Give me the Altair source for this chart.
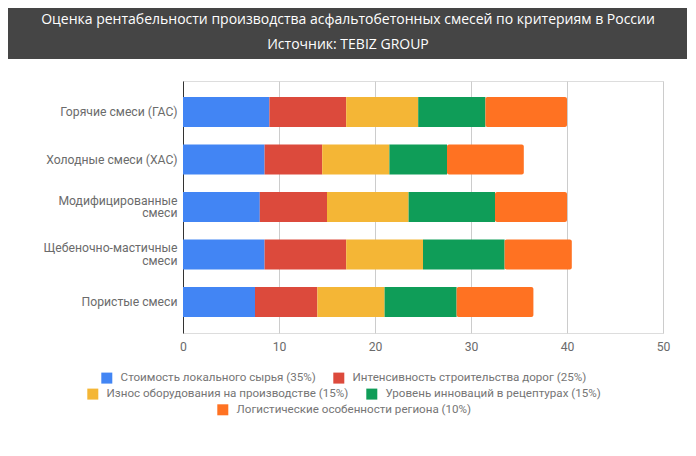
import altair as alt
import pandas as pd

categories = [
    "Горячие смеси (ГАС)",
    "Холодные смеси (ХАС)",
    "Модифицированные|смеси",
    "Щебеночно-мастичные|смеси",
    "Пористые смеси",
]
series_names = [
    "Стоимость локального сырья (35%)",
    "Интенсивность строительства дорог (25%)",
    "Износ оборудования на производстве (15%)",
    "Уровень инноваций в рецептурах (15%)",
    "Логистические особенности региона (10%)",
]
s_raw = [9.0, 8.5, 8.0, 8.5, 7.5]
s_roads = [8.0, 6.0, 7.0, 8.5, 6.5]
s_wear = [7.5, 7.0, 8.5, 8.0, 7.0]
s_innov = [7.0, 6.0, 9.0, 8.5, 7.5]
s_logist = [8.5, 8.0, 7.5, 7.0, 8.0]
colors = ["#4285F4", "#DC4A3C", "#F4B636", "#0F9D58", "#FF7222"]
x_ticks = [0, 10, 20, 30, 40, 50]

title_line1 = "Оценка рентабельности производства асфальтобетонных смесей по критериям в России"
title_line2 = "Источник: TEBIZ GROUP"

all_series = [s_raw, s_roads, s_wear, s_innov, s_logist]
rows = []
for si, (name, vals) in enumerate(zip(series_names, all_series)):
    for c, v in zip(categories, vals):
        rows.append({"category": c, "series": name, "order": si, "value": v})
df = pd.DataFrame(rows)

FONT = "Roboto"
LABEL_COLOR = "#6b6b6b"

base = alt.Chart(df).transform_stack(
    stack="value",
    groupby=["category"],
    as_=["x0", "x1"],
    sort=[alt.SortField("order", order="ascending")],
)

y_enc = alt.Y(
    "category:N",
    sort=categories,
    scale=alt.Scale(paddingInner=0.368, paddingOuter=0.337),
    axis=alt.Axis(
        title=None,
        labelExpr="split(datum.label, '|')",
        labelFont=FONT,
        labelFontSize=12.2,
        labelColor=LABEL_COLOR,
        labelPadding=6,
        labelLineHeight=12.7,
        labelOffset={"condition": {"test": "indexof(datum.label, '|') >= 0", "value": -6.3}, "value": 0},
        labelLimit=300,
        ticks=False,
        domain=True,
        domainColor="#333333",
        domainWidth=1,
        grid=False,
    ),
)
x_enc = alt.X(
    "x0:Q",
    scale=alt.Scale(domain=[0, 50], nice=False),
    axis=alt.Axis(
        title=None,
        values=x_ticks,
        labelFont=FONT,
        labelFontSize=12.2,
        labelColor=LABEL_COLOR,
        labelPadding=7,
        labelFlush=False,
        ticks=False,
        domain=False,
        grid=True,
        gridColor="#cccccc",
    ),
)


def legend(x, y):
    return alt.Legend(
        title=None,
        orient="none",
        legendX=x,
        legendY=y,
        direction="horizontal",
        symbolType="square",
        symbolSize=121,
        symbolStrokeWidth=0,
        symbolOpacity=1,
        labelFont=FONT,
        labelFontSize=11.6,
        labelColor="#757575",
        labelOffset=8,
        labelLimit=0,
        columnPadding=17,
        padding=0,
    )


groups = [([0, 1], -82, 291), ([2, 3], -96, 307), ([4], 34, 323)]
layers = []

one = pd.DataFrame({"k": [0]})
bg = alt.Chart(one).mark_rect(color="#454545").encode(
    x=alt.value(-175), x2=alt.value(504), y=alt.value(-73), y2=alt.value(-22)
)
layers.append(bg)
for txt, yy in [(title_line1, -61), (title_line2, -36)]:
    layers.append(
        alt.Chart(one)
        .mark_text(
            text=txt,
            color="#ffffff",
            font="Open Sans",
            fontSize=14,
            fontWeight=500,
            align="center",
            baseline="middle",
        )
        .encode(x=alt.value(165), y=alt.value(yy))
    )

for idx, lx, ly in groups:
    names = [series_names[i] for i in idx]
    cols = [colors[i] for i in idx]
    mark_kwargs = {}
    if 4 in idx:
        mark_kwargs["cornerRadiusEnd"] = 2
    layer = base.transform_filter(
        alt.FieldOneOfPredicate(field="series", oneOf=names)
    ).mark_bar(**mark_kwargs).encode(
        y=y_enc,
        x=x_enc,
        x2="x1:Q",
        color=alt.Color(
            "series:N",
            scale=alt.Scale(domain=names, range=cols),
            legend=legend(lx, ly),
        ),
    )
    layers.append(layer)

chart = (
    alt.layer(*layers)
    .resolve_scale(color="independent")
    .resolve_legend(color="independent")
    .properties(
        width=480,
        height=252,
        autosize=alt.AutoSizeParams(type="none"),
        padding={"left": 175, "top": 73, "right": 25, "bottom": 115},
    )
    .configure_view(stroke="transparent")
    .configure(background="#ffffff")
)

chart.save("out.html", embed_options={"renderer": "svg", "actions": False})
